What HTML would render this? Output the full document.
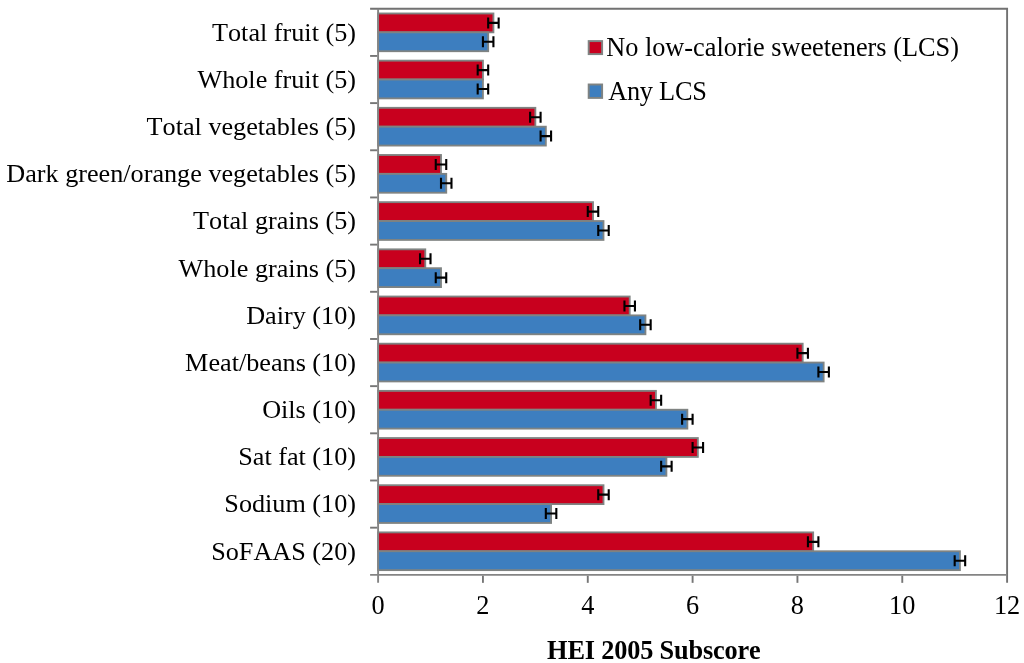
<!DOCTYPE html>
<html><head><meta charset="utf-8"><title>HEI 2005 Subscore</title>
<style>
html,body{margin:0;padding:0;background:#fff;}
svg{display:block;}
text{font-kerning:none;font-family:"Liberation Serif",serif;fill:#000;}
.l{font-size:26.2px;text-anchor:end;}
.t{font-size:26.3px;text-anchor:middle;}
.g{font-size:26.3px;}
.x{font-size:26.3px;font-weight:bold;text-anchor:middle;}
</style></head>
<body>
<svg width="1024" height="663" viewBox="0 0 1024 663">
<rect x="0" y="0" width="1024" height="663" fill="#fff"/>
<rect x="378.10" y="13.47" width="115.32" height="18.87" fill="#C8001E" stroke="#7f8382" stroke-width="1.85"/>
<rect x="378.10" y="32.34" width="110.08" height="18.87" fill="#3D7EBF" stroke="#7f8382" stroke-width="1.85"/>
<rect x="378.10" y="60.64" width="104.83" height="18.87" fill="#C8001E" stroke="#7f8382" stroke-width="1.85"/>
<rect x="378.10" y="79.51" width="104.83" height="18.87" fill="#3D7EBF" stroke="#7f8382" stroke-width="1.85"/>
<rect x="378.10" y="107.82" width="157.25" height="18.87" fill="#C8001E" stroke="#7f8382" stroke-width="1.85"/>
<rect x="378.10" y="126.69" width="167.73" height="18.87" fill="#3D7EBF" stroke="#7f8382" stroke-width="1.85"/>
<rect x="378.10" y="154.99" width="62.90" height="18.87" fill="#C8001E" stroke="#7f8382" stroke-width="1.85"/>
<rect x="378.10" y="173.86" width="68.14" height="18.87" fill="#3D7EBF" stroke="#7f8382" stroke-width="1.85"/>
<rect x="378.10" y="202.17" width="214.91" height="18.87" fill="#C8001E" stroke="#7f8382" stroke-width="1.85"/>
<rect x="378.10" y="221.04" width="225.39" height="18.87" fill="#3D7EBF" stroke="#7f8382" stroke-width="1.85"/>
<rect x="378.10" y="249.34" width="47.17" height="18.87" fill="#C8001E" stroke="#7f8382" stroke-width="1.85"/>
<rect x="378.10" y="268.21" width="62.90" height="18.87" fill="#3D7EBF" stroke="#7f8382" stroke-width="1.85"/>
<rect x="378.10" y="296.52" width="251.60" height="18.87" fill="#C8001E" stroke="#7f8382" stroke-width="1.85"/>
<rect x="378.10" y="315.39" width="267.32" height="18.87" fill="#3D7EBF" stroke="#7f8382" stroke-width="1.85"/>
<rect x="378.10" y="343.69" width="424.57" height="18.87" fill="#C8001E" stroke="#7f8382" stroke-width="1.85"/>
<rect x="378.10" y="362.56" width="445.54" height="18.87" fill="#3D7EBF" stroke="#7f8382" stroke-width="1.85"/>
<rect x="378.10" y="390.87" width="277.81" height="18.87" fill="#C8001E" stroke="#7f8382" stroke-width="1.85"/>
<rect x="378.10" y="409.74" width="309.26" height="18.87" fill="#3D7EBF" stroke="#7f8382" stroke-width="1.85"/>
<rect x="378.10" y="438.04" width="319.74" height="18.87" fill="#C8001E" stroke="#7f8382" stroke-width="1.85"/>
<rect x="378.10" y="456.91" width="288.29" height="18.87" fill="#3D7EBF" stroke="#7f8382" stroke-width="1.85"/>
<rect x="378.10" y="485.22" width="225.39" height="18.87" fill="#C8001E" stroke="#7f8382" stroke-width="1.85"/>
<rect x="378.10" y="504.09" width="172.97" height="18.87" fill="#3D7EBF" stroke="#7f8382" stroke-width="1.85"/>
<rect x="378.10" y="532.39" width="435.06" height="18.87" fill="#C8001E" stroke="#7f8382" stroke-width="1.85"/>
<rect x="378.10" y="551.26" width="581.82" height="18.87" fill="#3D7EBF" stroke="#7f8382" stroke-width="1.85"/>
<g stroke="#848484" stroke-width="1.9" fill="none">
<path stroke="#727272" d="M370.10 8.75 H1007.10 V582.85"/>
<path d="M378.10 8.75 V582.85"/>
<path d="M370.10 574.85 H1007.10"/>
<path stroke="#767676" d="M370.10 55.93 H377.20"/>
<path stroke="#767676" d="M370.10 103.10 H377.20"/>
<path stroke="#767676" d="M370.10 150.28 H377.20"/>
<path stroke="#767676" d="M370.10 197.45 H377.20"/>
<path stroke="#767676" d="M370.10 244.63 H377.20"/>
<path stroke="#767676" d="M370.10 291.80 H377.20"/>
<path stroke="#767676" d="M370.10 338.98 H377.20"/>
<path stroke="#767676" d="M370.10 386.15 H377.20"/>
<path stroke="#767676" d="M370.10 433.33 H377.20"/>
<path stroke="#767676" d="M370.10 480.50 H377.20"/>
<path stroke="#767676" d="M370.10 527.68 H377.20"/>
<path stroke="#767676" d="M482.93 575.75 V582.85"/>
<path stroke="#767676" d="M587.77 575.75 V582.85"/>
<path stroke="#767676" d="M692.60 575.75 V582.85"/>
<path stroke="#767676" d="M797.43 575.75 V582.85"/>
<path stroke="#767676" d="M902.27 575.75 V582.85"/>
</g>
<g stroke="#000" stroke-width="2.1" fill="none">
<path d="M488.18 22.90 H498.66 M488.18 17.40 V28.40 M498.66 17.40 V28.40"/>
<path d="M482.93 41.77 H493.42 M482.93 36.27 V47.27 M493.42 36.27 V47.27"/>
<path d="M477.69 70.08 H488.18 M477.69 64.58 V75.58 M488.18 64.58 V75.58"/>
<path d="M477.69 88.95 H488.18 M477.69 83.45 V94.45 M488.18 83.45 V94.45"/>
<path d="M530.11 117.25 H540.59 M530.11 111.75 V122.75 M540.59 111.75 V122.75"/>
<path d="M540.59 136.12 H551.08 M540.59 130.62 V141.62 M551.08 130.62 V141.62"/>
<path d="M435.76 164.43 H446.24 M435.76 158.93 V169.93 M446.24 158.93 V169.93"/>
<path d="M441.00 183.30 H451.48 M441.00 177.80 V188.80 M451.48 177.80 V188.80"/>
<path d="M587.77 211.60 H598.25 M587.77 206.10 V217.10 M598.25 206.10 V217.10"/>
<path d="M598.25 230.47 H608.73 M598.25 224.97 V235.97 M608.73 224.97 V235.97"/>
<path d="M420.03 258.78 H430.52 M420.03 253.28 V264.28 M430.52 253.28 V264.28"/>
<path d="M435.76 277.65 H446.24 M435.76 272.15 V283.15 M446.24 272.15 V283.15"/>
<path d="M624.46 305.95 H634.94 M624.46 300.45 V311.45 M634.94 300.45 V311.45"/>
<path d="M640.18 324.82 H650.67 M640.18 319.32 V330.32 M650.67 319.32 V330.32"/>
<path d="M797.43 353.13 H807.92 M797.43 347.63 V358.63 M807.92 347.63 V358.63"/>
<path d="M818.40 372.00 H828.88 M818.40 366.50 V377.50 M828.88 366.50 V377.50"/>
<path d="M650.67 400.30 H661.15 M650.67 394.80 V405.80 M661.15 394.80 V405.80"/>
<path d="M682.12 419.17 H692.60 M682.12 413.67 V424.67 M692.60 413.67 V424.67"/>
<path d="M692.60 447.48 H703.08 M692.60 441.98 V452.98 M703.08 441.98 V452.98"/>
<path d="M661.15 466.35 H671.63 M661.15 460.85 V471.85 M671.63 460.85 V471.85"/>
<path d="M598.25 494.65 H608.73 M598.25 489.15 V500.15 M608.73 489.15 V500.15"/>
<path d="M545.83 513.52 H556.32 M545.83 508.02 V519.02 M556.32 508.02 V519.02"/>
<path d="M807.92 541.83 H818.40 M807.92 536.33 V547.33 M818.40 536.33 V547.33"/>
<path d="M954.68 560.70 H965.17 M954.68 555.20 V566.20 M965.17 555.20 V566.20"/>
</g>
<text class="l" x="356.0" y="40.74">Total fruit (5)</text>
<text class="l" x="356.0" y="87.91">Whole fruit (5)</text>
<text class="l" x="356.0" y="135.09">Total vegetables (5)</text>
<text class="l" x="356.0" y="182.26">Dark green/orange vegetables (5)</text>
<text class="l" x="356.0" y="229.44">Total grains (5)</text>
<text class="l" x="356.0" y="276.61">Whole grains (5)</text>
<text class="l" x="356.0" y="323.79">Dairy (10)</text>
<text class="l" x="356.0" y="370.96">Meat/beans (10)</text>
<text class="l" x="356.0" y="418.14">Oils (10)</text>
<text class="l" x="356.0" y="465.31">Sat fat (10)</text>
<text class="l" x="356.0" y="512.49">Sodium (10)</text>
<text class="l" x="356.0" y="559.66">SoFAAS (20)</text>
<text class="t" x="378.10" y="613.5">0</text>
<text class="t" x="482.93" y="613.5">2</text>
<text class="t" x="587.77" y="613.5">4</text>
<text class="t" x="692.60" y="613.5">6</text>
<text class="t" x="797.43" y="613.5">8</text>
<text class="t" x="902.27" y="613.5">10</text>
<text class="t" x="1007.10" y="613.5">12</text>
<text class="x" x="653.9" y="658.7" textLength="213.6" lengthAdjust="spacing">HEI 2005 Subscore</text>
<rect x="588.7" y="41.1" width="13.4" height="13" fill="#C8001E" stroke="#7f8382" stroke-width="1.95"/>
<rect x="588.7" y="84.5" width="13.4" height="13.4" fill="#3D7EBF" stroke="#7f8382" stroke-width="1.95"/>
<text class="g" x="606.2" y="55.6">No low-calorie sweeteners (LCS)</text>
<text class="g" x="608.2" y="99.9" textLength="98.7" lengthAdjust="spacing">Any LCS</text>
</svg>
</body></html>
